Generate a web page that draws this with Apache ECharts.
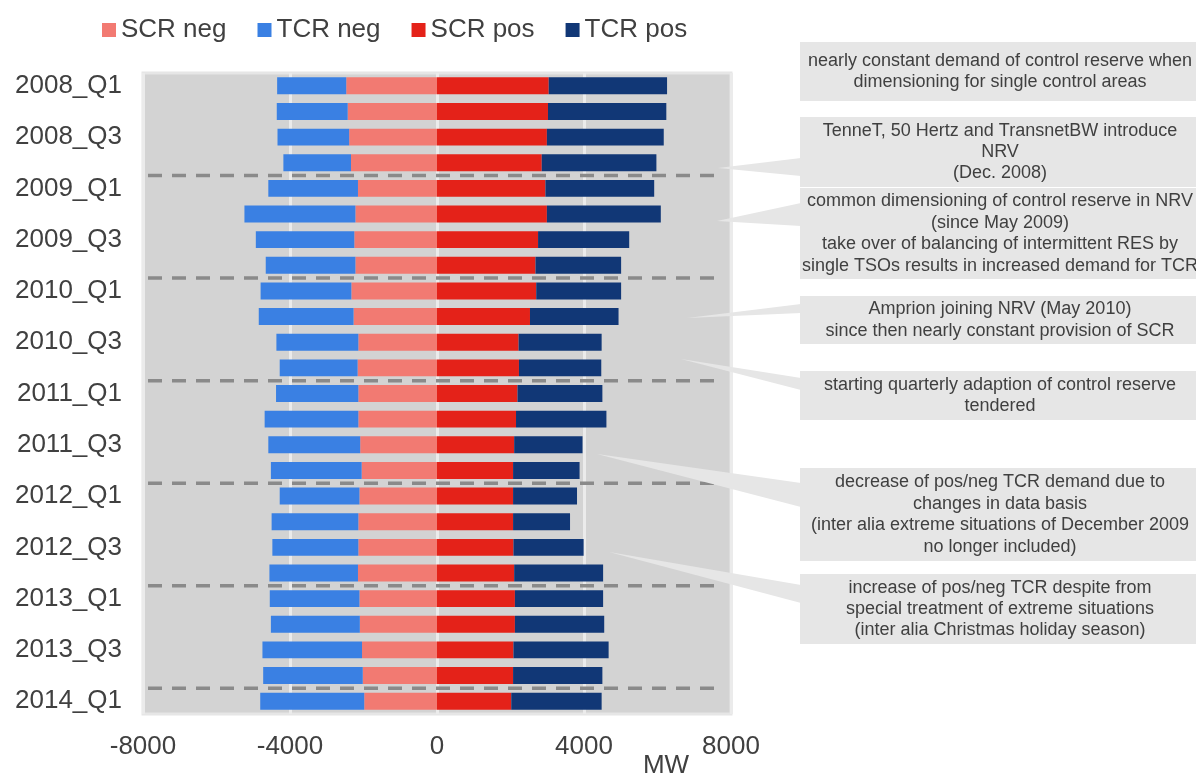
<!DOCTYPE html>
<html>
<head>
<meta charset="utf-8">
<script src="https://cdn.jsdelivr.net/npm/echarts@6/dist/echarts.min.js"></script>
<style>
  html, body { margin: 0; padding: 0; background: #fff; }
  #chart { width: 1196px; height: 774px; }
</style>
</head>
<body>
<div id="chart"></div>
<script>
// quarters, top to bottom
const categories = [
  '2008_Q1', '2008_Q2', '2008_Q3', '2008_Q4',
  '2009_Q1', '2009_Q2', '2009_Q3', '2009_Q4',
  '2010_Q1', '2010_Q2', '2010_Q3', '2010_Q4',
  '2011_Q1', '2011_Q2', '2011_Q3', '2011_Q4',
  '2012_Q1', '2012_Q2', '2012_Q3', '2012_Q4',
  '2013_Q1', '2013_Q2', '2013_Q3', '2013_Q4',
  '2014_Q1'
]
// MW
const scrNeg = [-2470, -2430, -2390, -2340, -2150, -2220, -2250, -2220, -2330, -2270, -2140, -2160, -2140,
  -2140, -2090, -2050, -2110, -2140, -2140, -2150, -2110, -2100, -2040, -2020, -1980]
const tcrNeg = [-1880, -1930, -1950, -1840, -2440, -3020, -2680, -2440, -2470, -2580, -2230, -2120, -2240,
  -2550, -2500, -2470, -2170, -2360, -2340, -2410, -2440, -2420, -2710, -2710, -2830]
const scrPos = [3040, 3020, 2990, 2850, 2950, 2990, 2750, 2680, 2700, 2530, 2220, 2230, 2190,
  2150, 2100, 2070, 2070, 2070, 2080, 2100, 2120, 2120, 2080, 2070, 2020]
const tcrPos = [3220, 3220, 3180, 3120, 2960, 3100, 2480, 2330, 2310, 2410, 2260, 2240, 2310,
  2460, 1860, 1810, 1740, 1550, 1910, 2420, 2400, 2430, 2590, 2430, 2460]
const xTicks = [-8000, -4000, 0, 4000, 8000]
// dashed separator drawn below these quarters
const yearEnds = ['2008_Q4', '2009_Q4', '2010_Q4', '2011_Q4', '2012_Q4', '2013_Q4']

const notes = [
  { y: 42, h: 59, lines: ['nearly constant demand of control reserve when', 'dimensioning for single control areas'], tip: null },
  { y: 117, h: 70, lines: ['TenneT, 50 Hertz and TransnetBW introduce', 'NRV', '(Dec. 2008)'], tip: [718, 168, 158, 176] },
  { y: 188, h: 91, lines: ['common dimensioning of control reserve in NRV', '(since May 2009)', 'take over of balancing of intermittent RES by', 'single TSOs results in increased demand for TCR'], tip: [717, 221, 203, 226] },
  { y: 296, h: 48, lines: ['Amprion joining NRV (May 2010)', 'since then nearly constant provision of SCR'], tip: [687, 318, 304, 313] },
  { y: 371, h: 49, lines: ['starting quarterly adaption of control reserve', 'tendered'], tip: [681, 359, 378, 390] },
  { y: 468, h: 93, lines: ['decrease of pos/neg TCR demand due to', 'changes in data basis', '(inter alia extreme situations of December 2009', 'no longer included)'], tip: [597, 454, 483, 507] },
  { y: 574, h: 70, lines: ['increase of pos/neg TCR despite from', 'special treatment of extreme situations', '(inter alia Christmas holiday season)'], tip: [609, 552, 585, 603] }
]

const font = '"Liberation Sans", Arial, sans-serif'
const textColor = '#404040'

const graphics = []
notes.forEach(n => {
  if (n.tip) {
    graphics.push({
      type: 'polygon', silent: true, z: 10,
      shape: { points: [[n.tip[0], n.tip[1]], [801, n.tip[2]], [801, n.tip[3]]] },
      style: { fill: '#e6e6e6' }
    })
  }
  graphics.push({
    type: 'rect', silent: true, z: 10,
    shape: { x: 800, y: n.y, width: 400, height: n.h },
    style: { fill: '#e6e6e6' }
  })
  const lh = 21.4
  const top = n.y + n.h / 2 - lh * n.lines.length / 2
  graphics.push({
    type: 'text', silent: true, z: 11,
    x: 1000, y: top,
    style: {
      text: n.lines.join('\n'), fill: textColor, font: '18px ' + font,
      align: 'center', verticalAlign: 'top', lineHeight: lh
    }
  })
})
graphics.push({
  type: 'text', silent: true, z: 11, x: 666, y: 753,
  style: { text: 'MW', fill: textColor, font: '26px ' + font, align: 'center', verticalAlign: 'top' }
})

const chart = echarts.init(document.getElementById('chart'))
const barSeries = (name, data, color) => ({
  name, type: 'bar', stack: 'total', data,
  barCategoryGap: '34%',
  itemStyle: { color },
  emphasis: { disabled: true }
})

const option = {
  animation: false,
  textStyle: { fontFamily: font },
  legend: {
    data: ['SCR neg', 'TCR neg', 'SCR pos', 'TCR pos'],
    left: 97, top: 12,
    itemWidth: 14, itemHeight: 14, itemGap: 31,
    icon: 'rect',
    textStyle: { fontSize: 26, color: textColor, fontFamily: font }
  },
  grid: {
    left: 143, top: 73, width: 588, height: 641,
    show: true, backgroundColor: '#d3d3d3', borderColor: '#e6e6e6', borderWidth: 3
  },
  xAxis: {
    type: 'value',
    min: xTicks[0], max: xTicks[xTicks.length - 1], interval: xTicks[1] - xTicks[0],
    axisLine: { show: false }, axisTick: { show: false },
    splitLine: { lineStyle: { color: '#ebebeb', width: 3 } },
    axisLabel: { fontSize: 26, color: textColor, margin: 20, formatter: v => String(v) }
  },
  yAxis: {
    type: 'category', data: categories, inverse: true,
    axisLine: { show: false }, axisTick: { show: false },
    axisLabel: { fontSize: 26, color: textColor, margin: 21, interval: 1 }
  },
  series: [
    barSeries('SCR neg', scrNeg, '#f27a72'),
    barSeries('TCR neg', tcrNeg, '#3a80e3'),
    barSeries('SCR pos', scrPos, '#e42219'),
    barSeries('TCR pos', tcrPos, '#113776'),
    {
      type: 'custom', silent: true, z: 3,
      data: yearEnds.map(q => [0, q]),
      renderItem: (params, api) => {
        const y = api.coord([0, api.value(1)])[1] + api.size([0, 1])[1] / 2
        const cs = params.coordSys
        return {
          type: 'line',
          shape: { x1: cs.x + 5, y1: y, x2: cs.x + cs.width - 14, y2: y },
          style: { stroke: '#8a8a8a', lineWidth: 3.5, lineDash: [14, 10] }
        }
      }
    }
  ],
  graphic: graphics
}
option && chart.setOption(option)
</script>
</body>
</html>
